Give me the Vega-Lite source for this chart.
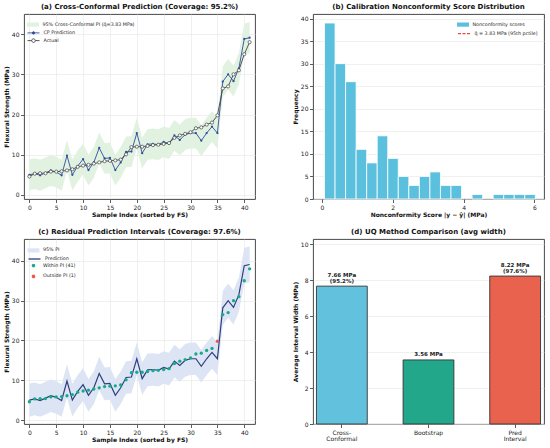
{
  "$schema": "https://vega.github.io/schema/vega-lite/v6.json",
  "background": "white",
  "padding": {"left": 3, "top": 2, "right": 2, "bottom": 2},
  "datasets": {
    "samples": [
      {"i": 0, "actual": 4.6, "pred": 5.0, "lo_cp": 1.17, "hi_cp": 8.83, "lo_pi": 0.8, "hi_pi": 9.2, "status": "Within PI (41)"},
      {"i": 1, "actual": 5.3, "pred": 5.3, "lo_cp": 1.47, "hi_cp": 9.13, "lo_pi": 1.2, "hi_pi": 9.4, "status": "Within PI (41)"},
      {"i": 2, "actual": 5.4, "pred": 4.9, "lo_cp": 1.07, "hi_cp": 8.73, "lo_pi": 0.8, "hi_pi": 9.0, "status": "Within PI (41)"},
      {"i": 3, "actual": 5.4, "pred": 5.5, "lo_cp": 1.67, "hi_cp": 9.33, "lo_pi": 1.4, "hi_pi": 9.6, "status": "Within PI (41)"},
      {"i": 4, "actual": 5.8, "pred": 6.1, "lo_cp": 2.27, "hi_cp": 9.93, "lo_pi": 2.0, "hi_pi": 10.2, "status": "Within PI (41)"},
      {"i": 5, "actual": 5.8, "pred": 5.7, "lo_cp": 1.87, "hi_cp": 9.53, "lo_pi": 1.6, "hi_pi": 9.8, "status": "Within PI (41)"},
      {"i": 6, "actual": 5.9, "pred": 4.9, "lo_cp": 1.07, "hi_cp": 8.73, "lo_pi": 0.8, "hi_pi": 9.0, "status": "Within PI (41)"},
      {"i": 7, "actual": 6.1, "pred": 9.8, "lo_cp": 5.97, "hi_cp": 13.63, "lo_pi": 5.6, "hi_pi": 14.0, "status": "Within PI (41)"},
      {"i": 8, "actual": 6.4, "pred": 5.0, "lo_cp": 1.17, "hi_cp": 8.83, "lo_pi": 0.9, "hi_pi": 9.1, "status": "Within PI (41)"},
      {"i": 9, "actual": 7.0, "pred": 7.2, "lo_cp": 3.37, "hi_cp": 11.03, "lo_pi": 3.1, "hi_pi": 11.3, "status": "Within PI (41)"},
      {"i": 10, "actual": 7.3, "pred": 8.9, "lo_cp": 5.07, "hi_cp": 12.73, "lo_pi": 4.8, "hi_pi": 13.0, "status": "Within PI (41)"},
      {"i": 11, "actual": 7.5, "pred": 6.2, "lo_cp": 2.37, "hi_cp": 10.03, "lo_pi": 2.1, "hi_pi": 10.3, "status": "Within PI (41)"},
      {"i": 12, "actual": 7.8, "pred": 8.1, "lo_cp": 4.27, "hi_cp": 11.93, "lo_pi": 4.0, "hi_pi": 12.2, "status": "Within PI (41)"},
      {"i": 13, "actual": 8.1, "pred": 11.7, "lo_cp": 7.87, "hi_cp": 15.53, "lo_pi": 7.5, "hi_pi": 15.9, "status": "Within PI (41)"},
      {"i": 14, "actual": 8.4, "pred": 9.1, "lo_cp": 5.27, "hi_cp": 12.93, "lo_pi": 5.0, "hi_pi": 13.2, "status": "Within PI (41)"},
      {"i": 15, "actual": 8.5, "pred": 9.2, "lo_cp": 5.37, "hi_cp": 13.03, "lo_pi": 5.1, "hi_pi": 13.3, "status": "Within PI (41)"},
      {"i": 16, "actual": 8.6, "pred": 6.2, "lo_cp": 2.37, "hi_cp": 10.03, "lo_pi": 2.1, "hi_pi": 10.3, "status": "Within PI (41)"},
      {"i": 17, "actual": 8.8, "pred": 8.1, "lo_cp": 4.27, "hi_cp": 11.93, "lo_pi": 4.0, "hi_pi": 12.2, "status": "Within PI (41)"},
      {"i": 18, "actual": 10.1, "pred": 10.7, "lo_cp": 6.87, "hi_cp": 14.53, "lo_pi": 6.6, "hi_pi": 14.8, "status": "Within PI (41)"},
      {"i": 19, "actual": 11.9, "pred": 10.8, "lo_cp": 6.97, "hi_cp": 14.63, "lo_pi": 6.7, "hi_pi": 14.9, "status": "Within PI (41)"},
      {"i": 20, "actual": 12.0, "pred": 15.4, "lo_cp": 11.57, "hi_cp": 19.23, "lo_pi": 11.3, "hi_pi": 19.5, "status": "Within PI (41)"},
      {"i": 21, "actual": 12.0, "pred": 10.4, "lo_cp": 6.57, "hi_cp": 14.23, "lo_pi": 6.3, "hi_pi": 14.5, "status": "Within PI (41)"},
      {"i": 22, "actual": 12.2, "pred": 12.6, "lo_cp": 8.77, "hi_cp": 16.43, "lo_pi": 8.5, "hi_pi": 16.7, "status": "Within PI (41)"},
      {"i": 23, "actual": 12.4, "pred": 12.7, "lo_cp": 8.87, "hi_cp": 16.53, "lo_pi": 8.6, "hi_pi": 16.8, "status": "Within PI (41)"},
      {"i": 24, "actual": 12.5, "pred": 12.5, "lo_cp": 8.67, "hi_cp": 16.33, "lo_pi": 8.4, "hi_pi": 16.6, "status": "Within PI (41)"},
      {"i": 25, "actual": 12.7, "pred": 13.2, "lo_cp": 9.37, "hi_cp": 17.03, "lo_pi": 9.1, "hi_pi": 17.3, "status": "Within PI (41)"},
      {"i": 26, "actual": 12.9, "pred": 12.8, "lo_cp": 8.97, "hi_cp": 16.63, "lo_pi": 8.7, "hi_pi": 16.9, "status": "Within PI (41)"},
      {"i": 27, "actual": 14.2, "pred": 14.8, "lo_cp": 10.97, "hi_cp": 18.63, "lo_pi": 10.7, "hi_pi": 18.9, "status": "Within PI (41)"},
      {"i": 28, "actual": 14.8, "pred": 13.7, "lo_cp": 9.87, "hi_cp": 17.53, "lo_pi": 9.6, "hi_pi": 17.8, "status": "Within PI (41)"},
      {"i": 29, "actual": 15.2, "pred": 15.0, "lo_cp": 11.17, "hi_cp": 18.83, "lo_pi": 10.9, "hi_pi": 19.1, "status": "Within PI (41)"},
      {"i": 30, "actual": 15.6, "pred": 15.4, "lo_cp": 11.57, "hi_cp": 19.23, "lo_pi": 11.3, "hi_pi": 19.5, "status": "Within PI (41)"},
      {"i": 31, "actual": 16.6, "pred": 15.4, "lo_cp": 11.57, "hi_cp": 19.23, "lo_pi": 11.3, "hi_pi": 19.5, "status": "Within PI (41)"},
      {"i": 32, "actual": 16.8, "pred": 13.5, "lo_cp": 9.67, "hi_cp": 17.33, "lo_pi": 9.4, "hi_pi": 17.6, "status": "Within PI (41)"},
      {"i": 33, "actual": 17.5, "pred": 15.4, "lo_cp": 11.57, "hi_cp": 19.23, "lo_pi": 11.3, "hi_pi": 19.5, "status": "Within PI (41)"},
      {"i": 34, "actual": 18.0, "pred": 17.0, "lo_cp": 13.17, "hi_cp": 20.83, "lo_pi": 12.9, "hi_pi": 21.1, "status": "Within PI (41)"},
      {"i": 35, "actual": 19.8, "pred": 15.4, "lo_cp": 11.57, "hi_cp": 19.23, "lo_pi": 11.3, "hi_pi": 19.5, "status": "Outside PI (1)"},
      {"i": 36, "actual": 26.5, "pred": 28.2, "lo_cp": 24.37, "hi_cp": 32.03, "lo_pi": 23.9, "hi_pi": 32.5, "status": "Within PI (41)"},
      {"i": 37, "actual": 27.0, "pred": 30.0, "lo_cp": 26.17, "hi_cp": 33.83, "lo_pi": 25.7, "hi_pi": 34.3, "status": "Within PI (41)"},
      {"i": 38, "actual": 30.0, "pred": 28.3, "lo_cp": 24.47, "hi_cp": 32.13, "lo_pi": 24.0, "hi_pi": 32.6, "status": "Within PI (41)"},
      {"i": 39, "actual": 31.0, "pred": 31.5, "lo_cp": 27.67, "hi_cp": 35.33, "lo_pi": 27.2, "hi_pi": 35.8, "status": "Within PI (41)"},
      {"i": 40, "actual": 35.0, "pred": 38.8, "lo_cp": 34.97, "hi_cp": 42.63, "lo_pi": 34.3, "hi_pi": 43.3, "status": "Within PI (41)"},
      {"i": 41, "actual": 38.0, "pred": 39.1, "lo_cp": 35.27, "hi_cp": 42.93, "lo_pi": 34.6, "hi_pi": 43.6, "status": "Within PI (41)"}
    ],
    "scores": [
      {"bin_start": 0.075, "bin_end": 0.3725, "count": 39},
      {"bin_start": 0.3725, "bin_end": 0.67, "count": 30},
      {"bin_start": 0.67, "bin_end": 0.9675, "count": 26},
      {"bin_start": 0.9675, "bin_end": 1.265, "count": 11},
      {"bin_start": 1.265, "bin_end": 1.5625, "count": 8},
      {"bin_start": 1.5625, "bin_end": 1.86, "count": 14},
      {"bin_start": 1.86, "bin_end": 2.1575, "count": 9},
      {"bin_start": 2.1575, "bin_end": 2.455, "count": 5},
      {"bin_start": 2.455, "bin_end": 2.7525, "count": 3},
      {"bin_start": 2.7525, "bin_end": 3.05, "count": 5},
      {"bin_start": 3.05, "bin_end": 3.3475, "count": 6},
      {"bin_start": 3.3475, "bin_end": 3.645, "count": 3},
      {"bin_start": 3.645, "bin_end": 3.9425, "count": 3},
      {"bin_start": 4.24, "bin_end": 4.5375, "count": 1},
      {"bin_start": 4.835, "bin_end": 5.1325, "count": 1},
      {"bin_start": 5.1325, "bin_end": 5.43, "count": 1},
      {"bin_start": 5.43, "bin_end": 5.7275, "count": 1},
      {"bin_start": 5.7275, "bin_end": 6.025, "count": 1}
    ],
    "methods": [
      {"method": "Cross-Conformal", "width": 7.66, "line1": "7.66 MPa", "line2": "(95.2%)"},
      {"method": "Bootstrap", "width": 3.56, "line1": "", "line2": "3.56 MPa"},
      {"method": "Pred Interval", "width": 8.22, "line1": "8.22 MPa", "line2": "(97.6%)"}
    ]
  },
  "config": {
    "font": "DejaVu Sans",
    "view": {"stroke": "#333333", "strokeWidth": 0.9},
    "title": {"fontSize": 7, "fontWeight": "bold", "anchor": "middle", "offset": 4, "color": "#111111"},
    "axis": {
      "labelFontSize": 6,
      "titleFontSize": 6,
      "titleFontWeight": "bold",
      "labelColor": "#222222",
      "titleColor": "#111111",
      "tickSize": 3.5,
      "tickColor": "#333333",
      "tickWidth": 0.8,
      "labelPadding": 1.5,
      "titlePadding": 1.5,
      "domain": false,
      "gridColor": "#e6e6e6",
      "gridWidth": 0.6,
      "labelFlush": false,
      "labelOverlap": false
    },
    "legend": {
      "title": null,
      "labelFontSize": 4.8,
      "labelColor": "#222222",
      "padding": 0,
      "rowPadding": 2.8,
      "symbolSize": 144,
      "labelOffset": 3.5,
      "labelLimit": 0,
      "direction": "vertical"
    }
  },
  "spacing": 9,
  "resolve": {
    "scale": {"color": "independent", "fill": "independent", "stroke": "independent"},
    "legend": {"color": "independent", "fill": "independent", "stroke": "independent"}
  },
  "vconcat": [
    {
      "spacing": 36,
      "resolve": {
        "scale": {"color": "independent", "fill": "independent", "stroke": "independent"},
        "legend": {"color": "independent", "fill": "independent", "stroke": "independent"}
      },
      "hconcat": [
        {
          "title": "(a) Cross-Conformal Prediction  (Coverage: 95.2%)",
          "width": 231,
          "height": 185,
          "data": {"name": "samples"},
          "encoding": {
            "x": {
              "field": "i",
              "type": "quantitative",
              "scale": {"domain": [-1, 42], "nice": false},
              "axis": {"values": [0, 5, 10, 15, 20, 25, 30, 35, 40], "title": "Sample Index (sorted by FS)"}
            }
          },
          "layer": [
            {
              "mark": {"type": "area", "opacity": 1},
              "encoding": {
                "y": {
                  "field": "lo_cp",
                  "type": "quantitative",
                  "scale": {"domain": [-1, 45], "nice": false},
                  "axis": {"values": [0, 10, 20, 30, 40], "title": "Flexural Strength (MPa)"}
                },
                "y2": {"field": "hi_cp"},
                "fill": {
                  "datum": "95% Cross-Conformal PI (q̂=3.83 MPa)",
                  "scale": {"range": ["#e1f2e1"]},
                  "legend": {"title": null, "orient": "none", "legendX": 3, "legendY": 4.6, "symbolType": "M-1,-0.35H1V0.35H-1Z", "symbolStrokeWidth": 0}
                }
              }
            },
            {
              "mark": {"type": "line", "strokeWidth": 0.9},
              "encoding": {
                "y": {"field": "pred", "type": "quantitative"},
                "stroke": {
                  "datum": "CP Prediction",
                  "scale": {"range": ["#2e4d9c"]},
                  "legend": {"title": null, "orient": "none", "legendX": 3, "legendY": 12.4, "symbolType": "M-1,0H1M0.2,0A0.2,0.2 0 1 1 -0.2,0A0.2,0.2 0 1 1 0.2,0Z", "symbolStrokeWidth": 0.9, "symbolFillColor": "#2e4d9c"}
                }
              }
            },
            {
              "mark": {"type": "point", "filled": true, "color": "#2e4d9c", "size": 5, "opacity": 1},
              "encoding": {"y": {"field": "pred", "type": "quantitative"}}
            },
            {
              "mark": {"type": "line", "strokeWidth": 0.9},
              "encoding": {
                "y": {"field": "actual", "type": "quantitative"},
                "color": {
                  "datum": "Actual",
                  "scale": {"range": ["#444444"]},
                  "legend": {"title": null, "orient": "none", "legendX": 3, "legendY": 20.1, "symbolType": "M-1,0H-0.3M0.3,0H1M0.3,0A0.3,0.3 0 1 1 -0.3,0A0.3,0.3 0 1 1 0.3,0Z", "symbolStrokeWidth": 0.9, "symbolFillColor": "white"}
                }
              }
            },
            {
              "mark": {"type": "point", "filled": true, "fill": "white", "stroke": "#444444", "strokeWidth": 0.7, "size": 10, "opacity": 1},
              "encoding": {"y": {"field": "actual", "type": "quantitative"}}
            }
          ]
        },
        {
          "title": "(b) Calibration Nonconformity Score Distribution",
          "width": 231,
          "height": 185,
          "layer": [
            {
              "data": {"name": "scores"},
              "mark": {"type": "bar", "stroke": "white", "strokeWidth": 0.8},
              "encoding": {
                "x": {
                  "field": "bin_start",
                  "type": "quantitative",
                  "scale": {"domain": [-0.25, 6.27], "nice": false},
                  "axis": {"values": [0, 1, 2, 3, 4, 5, 6], "grid": false, "title": "Nonconformity Score |y − ŷ| (MPa)"}
                },
                "x2": {"field": "bin_end"},
                "y": {
                  "field": "count",
                  "type": "quantitative",
                  "scale": {"domain": [0, 41], "nice": false},
                  "axis": {"values": [0, 5, 10, 15, 20, 25, 30, 35, 40], "title": "Frequency"}
                },
                "y2": {"datum": 0},
                "fill": {
                  "datum": "Nonconformity scores",
                  "scale": {"range": ["#5bc0de"]},
                  "legend": {"title": null, "orient": "none", "legendX": 144, "legendY": 4.6, "symbolType": "M-1,-0.35H1V0.35H-1Z", "symbolStrokeWidth": 0}
                }
              }
            },
            {
              "mark": {"type": "rule", "strokeDash": [4, 2], "strokeWidth": 1.2},
              "encoding": {
                "x": {"datum": 3.83},
                "stroke": {
                  "datum": "q̂ = 3.83 MPa  (95th pctile)",
                  "scale": {"range": ["#e8473a"]},
                  "legend": {"title": null, "orient": "none", "legendX": 144, "legendY": 12.6, "symbolType": "M-1,0H1", "symbolStrokeWidth": 1.2, "symbolDash": [3, 1.5]}
                }
              }
            }
          ]
        }
      ]
    },
    {
      "spacing": 36,
      "resolve": {
        "scale": {"color": "independent", "fill": "independent", "stroke": "independent"},
        "legend": {"color": "independent", "fill": "independent", "stroke": "independent"}
      },
      "hconcat": [
        {
          "title": "(c) Residual Prediction Intervals  (Coverage: 97.6%)",
          "width": 231,
          "height": 185,
          "data": {"name": "samples"},
          "encoding": {
            "x": {
              "field": "i",
              "type": "quantitative",
              "scale": {"domain": [-1, 42], "nice": false},
              "axis": {"values": [0, 5, 10, 15, 20, 25, 30, 35, 40], "title": "Sample Index (sorted by FS)"}
            }
          },
          "layer": [
            {
              "mark": {"type": "area", "opacity": 1},
              "encoding": {
                "y": {
                  "field": "lo_pi",
                  "type": "quantitative",
                  "scale": {"domain": [-1, 45.5], "nice": false},
                  "axis": {"values": [0, 10, 20, 30, 40], "title": "Flexural Strength (MPa)"}
                },
                "y2": {"field": "hi_pi"},
                "fill": {
                  "datum": "95% PI",
                  "scale": {"range": ["#dde5f5"]},
                  "legend": {"title": null, "orient": "none", "legendX": 3.5, "legendY": 5.4, "symbolType": "M-1,-0.35H1V0.35H-1Z", "symbolStrokeWidth": 0}
                }
              }
            },
            {
              "mark": {"type": "line", "strokeWidth": 1.2},
              "encoding": {
                "y": {"field": "pred", "type": "quantitative"},
                "stroke": {
                  "datum": "Prediction",
                  "scale": {"range": ["#2d3f7e"]},
                  "legend": {"title": null, "orient": "none", "legendX": 3.5, "legendY": 13, "symbolType": "M-1,0H1", "symbolStrokeWidth": 1.3}
                }
              }
            },
            {
              "mark": {"type": "point", "filled": true, "size": 11, "opacity": 1},
              "encoding": {
                "y": {"field": "actual", "type": "quantitative"},
                "color": {
                  "field": "status",
                  "type": "nominal",
                  "scale": {"domain": ["Within PI (41)", "Outside PI (1)"], "range": ["#18a98a", "#ec5a4b"]},
                  "legend": {"title": null, "orient": "none", "legendX": 3.5, "legendY": 20.6, "symbolType": "M0.3,0A0.3,0.3 0 1 1 -0.3,0A0.3,0.3 0 1 1 0.3,0Z", "symbolStrokeWidth": 0, "symbolOpacity": 1}
                }
              }
            }
          ]
        },
        {
          "title": "(d) UQ Method Comparison (avg width)",
          "width": 231,
          "height": 185,
          "data": {"name": "methods"},
          "encoding": {
            "x": {
              "field": "method",
              "type": "nominal",
              "sort": null,
              "scale": {"paddingInner": 0.414, "paddingOuter": 0.04},
              "axis": {
                "title": null,
                "labelAngle": 0,
                "grid": false,
                "labelLineHeight": 6.5,
                "labelExpr": "datum.value === 'Cross-Conformal' ? ['Cross-', 'Conformal'] : datum.value === 'Pred Interval' ? ['Pred', 'Interval'] : datum.label"
              }
            },
            "y": {
              "field": "width",
              "type": "quantitative",
              "scale": {"domain": [0, 10.28], "nice": false},
              "axis": {"values": [0, 2, 4, 6, 8, 10], "title": "Average Interval Width (MPa)"}
            }
          },
          "layer": [
            {
              "mark": {"type": "bar", "stroke": "#333333", "strokeWidth": 0.9},
              "encoding": {
                "color": {
                  "field": "method",
                  "type": "nominal",
                  "sort": null,
                  "scale": {"domain": ["Cross-Conformal", "Bootstrap", "Pred Interval"], "range": ["#62c2dd", "#22a78b", "#e9624e"]},
                  "legend": null
                }
              }
            },
            {
              "mark": {"type": "text", "baseline": "bottom", "dy": -2.5, "fontSize": 5.5, "fontWeight": "bold", "color": "#222222"},
              "encoding": {"text": {"field": "line2"}}
            },
            {
              "mark": {"type": "text", "baseline": "bottom", "dy": -8.3, "fontSize": 5.5, "fontWeight": "bold", "color": "#222222"},
              "encoding": {"text": {"field": "line1"}}
            }
          ]
        }
      ]
    }
  ]
}
